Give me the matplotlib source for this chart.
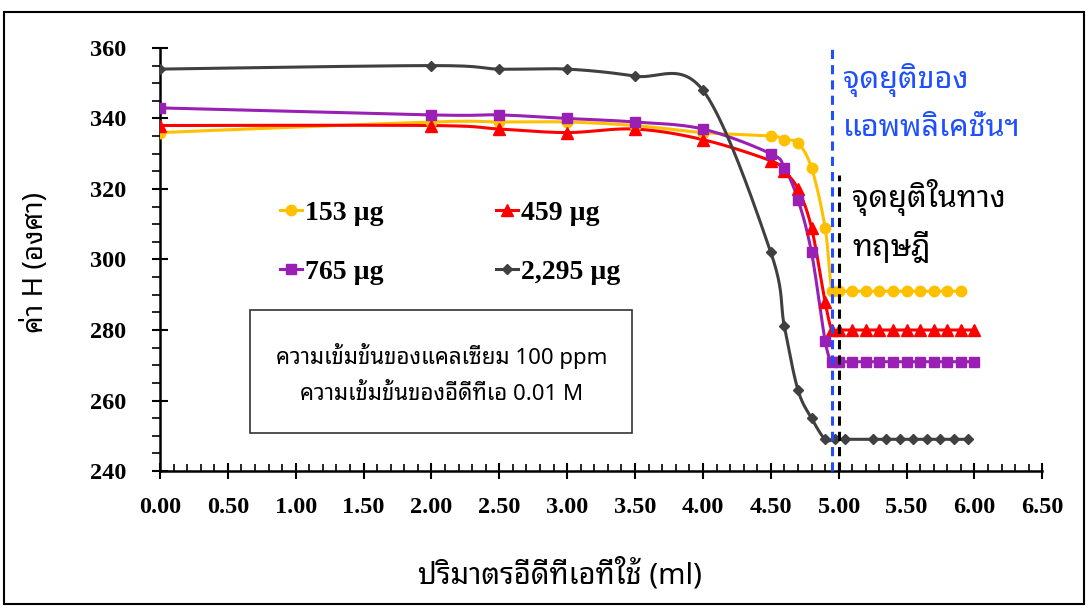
import numpy as np
import matplotlib
matplotlib.use("Agg")
import matplotlib.pyplot as plt
from matplotlib import font_manager
from matplotlib.patches import Rectangle

# titration data: EDTA volume (ml) vs hue value H (degrees)
x_153 = [0, 2.0, 2.5, 3.0, 3.5, 4.0, 4.5, 4.6, 4.7, 4.8, 4.9, 4.95,
         5.0, 5.1, 5.2, 5.3, 5.4, 5.5, 5.6, 5.7, 5.8, 5.9]
h_153 = [336, 339, 339, 339, 338, 336, 335, 334, 333, 326, 309, 291,
         291, 291, 291, 291, 291, 291, 291, 291, 291, 291]

x_459 = [0, 2.0, 2.5, 3.0, 3.5, 4.0, 4.5, 4.6, 4.7, 4.8, 4.9, 4.95,
         5.0, 5.1, 5.2, 5.3, 5.4, 5.5, 5.6, 5.7, 5.8, 5.9, 6.0]
h_459 = [338, 338, 337, 336, 337, 334, 328, 325, 320, 309, 288, 280,
         280, 280, 280, 280, 280, 280, 280, 280, 280, 280, 280]

x_765 = [0, 2.0, 2.5, 3.0, 3.5, 4.0, 4.5, 4.6, 4.7, 4.8, 4.9, 4.95,
         5.0, 5.1, 5.2, 5.3, 5.4, 5.5, 5.6, 5.7, 5.8, 5.9, 6.0]
h_765 = [343, 341, 341, 340, 339, 337, 330, 326, 317, 302, 277, 271,
         271, 271, 271, 271, 271, 271, 271, 271, 271, 271, 271]

x_2295 = [0, 2.0, 2.5, 3.0, 3.5, 4.0, 4.5, 4.6, 4.7, 4.8, 4.9, 4.97,
          5.05, 5.25, 5.35, 5.45, 5.55, 5.65, 5.75, 5.85, 5.95]
h_2295 = [354, 355, 354, 354, 352, 348, 302, 281, 263, 255, 249, 249,
          249, 249, 249, 249, 249, 249, 249, 249, 249]

labels = ["153 µg", "459 µg", "765 µg", "2,295 µg"]
colors = ["#FFC000", "#FF0000", "#9A1FB5", "#404040"]
markers = ["o", "^", "s", "D"]
msizes = [7.5, 8, 7.5, 5]

endpoint_app = 4.95   # endpoint from the application
endpoint_theory = 5.0  # theoretical endpoint

# pick a Thai font that is installed
avail = set(f.name for f in font_manager.fontManager.ttflist)
thai = "DejaVu Sans"
for name in ["Noto Sans Thai Looped", "Sarabun", "Noto Serif Thai", "Noto Sans Thai",
             "Tahoma", "Loma", "Garuda", "Athiti", "Bai Jamjuree", "Anuphan"]:
    if name in avail:
        thai = name
        break
thai_fam = [thai, "DejaVu Sans"]
serif = "Liberation Serif"


def smooth(x, y, n=24):
    # bezier smoothing like spreadsheet "smoothed line"
    p = np.column_stack([x, y]).astype(float)
    pts = np.vstack([p[:1], p, p[-1:]])
    out = [p[0]]
    t = np.linspace(0, 1, n)[1:, None]
    for i in range(1, len(pts) - 2):
        p0, p1, p2, p3 = pts[i - 1], pts[i], pts[i + 1], pts[i + 2]
        c1 = p1 + (p2 - p0) / 6.0
        c2 = p2 - (p3 - p1) / 6.0
        seg = ((1 - t) ** 3) * p1 + 3 * ((1 - t) ** 2) * t * c1 + 3 * (1 - t) * t ** 2 * c2 + t ** 3 * p2
        out.extend(seg)
    out = np.array(out)
    return out[:, 0], out[:, 1]


fig = plt.figure(figsize=(10.88, 6.07), dpi=100)
ax = fig.add_axes([0.147, 0.224, 0.811, 0.697])

series = [(x_153, h_153), (x_459, h_459), (x_765, h_765), (x_2295, h_2295)]
handles = []
for (xs, hs), lab, c, m, ms in zip(series, labels, colors, markers, msizes):
    sx, sy = smooth(xs, hs)
    ax.plot(sx, sy, color=c, lw=2.2, zorder=3)
    ax.plot(xs, hs, ls="none", marker=m, ms=ms, color=c, zorder=4)
    h, = ax.plot([], [], color=c, lw=2.2, marker=m, ms=ms, label=lab)
    handles.append(h)

ax.axvline(endpoint_app, ymin=0, ymax=1.01, color="#1F4FFF", lw=2.2, ls=(0, (3, 2)), zorder=5, clip_on=False)
ax.plot([endpoint_theory, endpoint_theory], [240, 324], color="black", lw=2.2, ls=(0, (3, 2)), zorder=5)

ax.set_xlim(0, 6.5)
ax.set_ylim(240, 360)
ax.set_xticks(np.arange(0, 6.51, 0.5))
ax.set_xticklabels(["%.2f" % v for v in np.arange(0, 6.51, 0.5)])
ax.set_yticks(np.arange(240, 361, 20))
ax.set_xticks(np.arange(0, 6.51, 0.1), minor=True)
ax.set_yticks(np.arange(240, 361, 5), minor=True)
for lab in ax.get_xticklabels() + ax.get_yticklabels():
    lab.set_fontfamily(serif)
    lab.set_fontweight("bold")
    lab.set_fontsize(17.5)
ax.tick_params(which="major", direction="inout", length=12, width=1.5)
ax.tick_params(axis="x", which="minor", direction="in", length=5, width=1.2)
ax.tick_params(axis="y", which="minor", direction="out", length=6, width=1.2)
ax.tick_params(axis="x", which="major", pad=13)
ax.tick_params(axis="y", which="major", pad=18)
for side in ["top", "right"]:
    ax.spines[side].set_visible(False)
for side in ["left", "bottom"]:
    ax.spines[side].set_linewidth(1.8)

ax.set_xlabel("ปริมาตรอีดีทีเอที่ใช้ (ml)", family=thai_fam, fontsize=21)
ax.set_ylabel("ค่า H (องศา)", family=thai_fam, fontsize=20)
ax.xaxis.set_label_coords(0.453, -0.205)
ax.yaxis.set_label_coords(-0.125, 0.494)

# two rows: 153 / 459 on top, 765 / 2,295 below
order = [0, 2, 1, 3]
ax.legend([handles[i] for i in order], [labels[i] for i in order],
          loc="upper left", bbox_to_anchor=(0.108, 0.699), ncol=2, frameon=False,
          prop={"family": serif, "weight": "bold", "size": 20},
          handlelength=0.8, handletextpad=0.1, columnspacing=4.05, labelspacing=1.2)

# concentration note
ax.add_patch(Rectangle((0.102, 0.09), 0.433, 0.291, transform=ax.transAxes,
                       fill=False, ec="#333333", lw=1.2, zorder=2))
ax.text(0.319, 0.272, "ความเข้มข้นของแคลเซียม 100 ppm", transform=ax.transAxes,
        ha="center", va="center", family=thai_fam, fontsize=16)
ax.text(0.319, 0.182, "ความเข้มข้นของอีดีทีเอ 0.01 M", transform=ax.transAxes,
        ha="center", va="center", family=thai_fam, fontsize=16)

ax.text(5.03, 351, "จุดยุติของ", color="#1F4FFF", family=thai_fam, fontsize=22, va="center")
ax.text(5.03, 337.3, "แอพพลิเคชั่นฯ", color="#1F4FFF", family=thai_fam, fontsize=22, va="center")
ax.text(5.10, 317.7, "จุดยุติในทาง", color="black", family=thai_fam, fontsize=22, va="center")
ax.text(5.10, 303.5, "ทฤษฎี", color="black", family=thai_fam, fontsize=22, va="center")

# outer chart border
fig.patches.append(Rectangle((4 / 1088, 3 / 607), 1080 / 1088, 596 / 607 - 4 / 607, transform=fig.transFigure,
                             fill=False, ec="black", lw=1.5))

fig.savefig("out.png", dpi=100)
